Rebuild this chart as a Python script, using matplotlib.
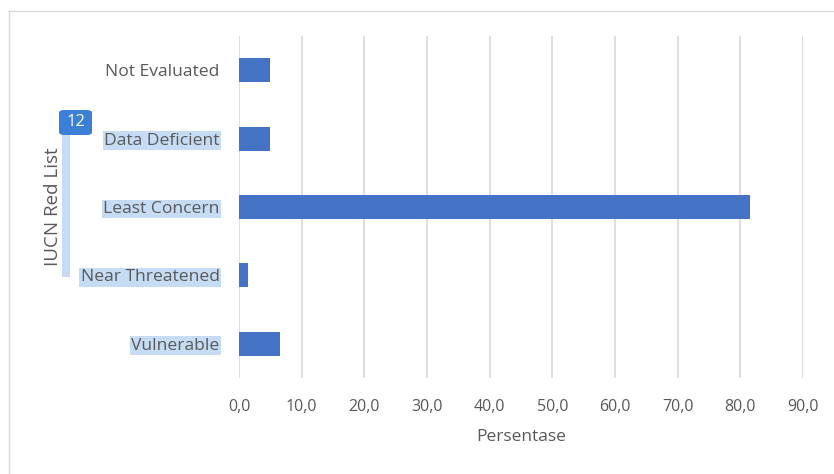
import matplotlib.pyplot as plt
from matplotlib.patches import Rectangle, FancyBboxPatch

categories = ['Not Evaluated', 'Data Deficient', 'Least Concern', 'Near Threatened', 'Vulnerable']
values = [5.0, 5.0, 81.5, 1.5, 6.6]
highlighted = [False, True, True, True, True]
xticks = [0, 10, 20, 30, 40, 50, 60, 70, 80, 90]
xtick_labels = ['0,0', '10,0', '20,0', '30,0', '40,0', '50,0', '60,0', '70,0', '80,0', '90,0']

plt.rcParams['font.family'] = ['Open Sans', 'DejaVu Sans']
text_color = '#595959'
hl_color = '#c6dcf4'

fig = plt.figure(figsize=(8.34, 4.74), dpi=100)
ax = fig.add_axes([0.2866, 0.2025, 0.6763, 0.7215])

pos = list(range(len(categories)))[::-1]
ax.barh(pos, values, height=0.35, color='#4472C4', zorder=3)

ax.set_xlim(0, 90)
ax.set_ylim(-0.5, len(categories) - 0.5)
ax.set_xticks(xticks)
ax.set_xticklabels(xtick_labels, fontsize=11.5, color=text_color)
ax.set_yticks(pos)
ax.set_yticklabels(categories, fontsize=12.6, color=text_color)
for lbl, hl in zip(ax.get_yticklabels(), highlighted):
    if hl:
        lbl.set_bbox(dict(facecolor=hl_color, edgecolor='none', pad=1.0))

ax.grid(axis='x', color='#d9d9d9', linewidth=1.2, zorder=0)
for s in ax.spines.values():
    s.set_visible(False)
ax.tick_params(axis='both', length=0)
ax.tick_params(axis='y', pad=14)
ax.tick_params(axis='x', pad=15)

ax.set_xlabel('Persentase', fontsize=12.5, color=text_color, labelpad=10)
fig.text(53 / 834, 1 - 207 / 474, 'IUCN Red List', rotation=90, fontsize=13.5, color=text_color,
         ha='center', va='center')

# selection artifacts from the source document
fig.patches.append(Rectangle((62 / 834, 1 - 277 / 474), 8 / 834, 142 / 474,
                             transform=fig.transFigure, facecolor=hl_color, edgecolor='none', zorder=0))
fig.patches.append(FancyBboxPatch((59 / 834, 1 - 135 / 474), 33 / 834, 25 / 474,
                                  boxstyle='round,pad=0,rounding_size=0.006',
                                  transform=fig.transFigure, facecolor='#3b7fd6', edgecolor='none'))
fig.text(75.5 / 834, 1 - 122.5 / 474, '12', color='white', fontsize=12, ha='center', va='center')

# chart border
fig.add_artist(plt.Line2D([8 / 834, 1], [1 - 11 / 474, 1 - 11 / 474], transform=fig.transFigure,
                          color='#d9d9d9', linewidth=1))
fig.add_artist(plt.Line2D([9 / 834, 9 / 834], [0, 1 - 11 / 474], transform=fig.transFigure,
                          color='#d9d9d9', linewidth=1))

fig.savefig('out.png', dpi=100)
